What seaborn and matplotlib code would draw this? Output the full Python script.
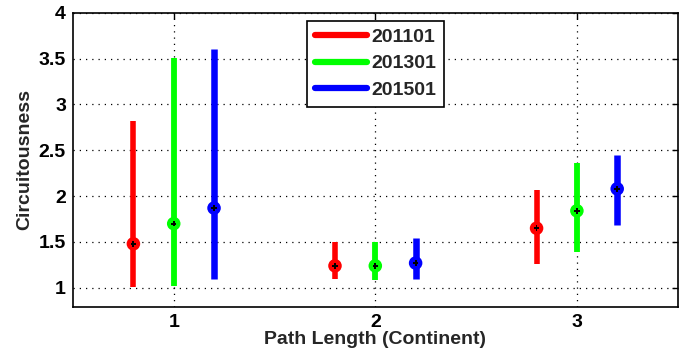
import matplotlib
matplotlib.use("Agg")
import matplotlib.pyplot as plt
import seaborn as sns
import pandas as pd
import numpy as np
from matplotlib.lines import Line2D

# ---- data ----
groups = [1, 2, 3]
series = ["201101", "201301", "201501"]
colors = ["#ff0000", "#00ff00", "#0000ff"]

mid_201101 = [1.48, 1.24, 1.65]
low_201101 = [1.01, 1.10, 1.265]
high_201101 = [2.82, 1.50, 2.07]

mid_201301 = [1.70, 1.24, 1.84]
low_201301 = [1.02, 1.08, 1.39]
high_201301 = [3.51, 1.50, 2.36]

mid_201501 = [1.87, 1.27, 2.08]
low_201501 = [1.10, 1.10, 1.69]
high_201501 = [3.61, 1.54, 2.45]

yticks = [1, 1.5, 2, 2.5, 3, 3.5, 4]
ytick_labels = ["1", "1.5", "2", "2.5", "3", "3.5", "4"]
xlabel = "Path Length (Continent)"
ylabel = "Circuitousness"

mids = [mid_201101, mid_201301, mid_201501]
lows = [low_201101, low_201301, low_201501]
highs = [high_201101, high_201301, high_201501]
offsets = [-0.2, 0.0, 0.2]
widths = [4.0, 4.2, 4.7]

rows_line, rows_pt = [], []
for si, s in enumerate(series):
    for gi, g in enumerate(groups):
        x = g + offsets[si]
        uid = f"{s}_{g}"
        rows_line.append(dict(x=x, y=lows[si][gi], series=s, uid=uid))
        rows_line.append(dict(x=x, y=highs[si][gi], series=s, uid=uid))
        rows_pt.append(dict(x=x, y=mids[si][gi], series=s))
df_line = pd.DataFrame(rows_line)
df_pt = pd.DataFrame(rows_pt)

sns.set_style("white")
plt.rcParams["font.family"] = ["Liberation Sans", "DejaVu Sans"]
plt.rcParams["font.weight"] = "bold"

fig = plt.figure(figsize=(6.88, 3.55), dpi=100)
ax = fig.add_axes([0.106, 0.135, 0.879, 0.829])

for si, s in enumerate(series):
    sub = df_line[df_line.series == s]
    sns.lineplot(data=sub, x="x", y="y", units="uid", estimator=None,
                 color=colors[si], linewidth=widths[si], ax=ax,
                 legend=False, sort=False)

for si, s in enumerate(series):
    subp = df_pt[df_pt.series == s]
    sns.scatterplot(data=subp, x="x", y="y", color=colors[si], s=95,
                    edgecolor="none", ax=ax, legend=False, zorder=3)
sns.scatterplot(data=df_pt, x="x", y="y", color="black", marker="P", s=16,
                edgecolor="none", ax=ax, legend=False, zorder=4)

for ln in ax.lines:
    ln.set_solid_capstyle("butt")

ax.set_xlim(0.5, 3.5)
ax.set_ylim(0.79, 4)
ax.set_xticks(groups)
ax.set_xticklabels([str(g) for g in groups], fontsize=14, fontweight="bold")
ax.set_yticks(yticks)
ax.set_yticklabels(ytick_labels, fontsize=14, fontweight="bold")
ax.tick_params(direction="in", length=4, width=1, colors="black",
               top=True, right=True, pad=5)
ax.grid(True, color="black", linestyle=(0, (1, 4)), linewidth=0.9)
for sp in ax.spines.values():
    sp.set_color("black")
    sp.set_linewidth(1.2)
ax.set_xlabel(xlabel, fontsize=14, fontweight="bold", labelpad=0)
ax.set_ylabel(ylabel, fontsize=14, fontweight="bold", labelpad=4)

handles = [Line2D([0], [0], color=c, linewidth=4.5) for c in colors]
leg = ax.legend(handles, series, loc="upper left",
                bbox_to_anchor=(0.387, 0.973), borderaxespad=0,
                frameon=True, fancybox=False,
                edgecolor="black", framealpha=1, handlelength=2.7,
                prop=dict(size=14, weight="bold"), borderpad=0.4,
                labelspacing=0.45, handletextpad=0.2)
leg.get_frame().set_linewidth(1.2)

fig.savefig("out.png", dpi=100)
